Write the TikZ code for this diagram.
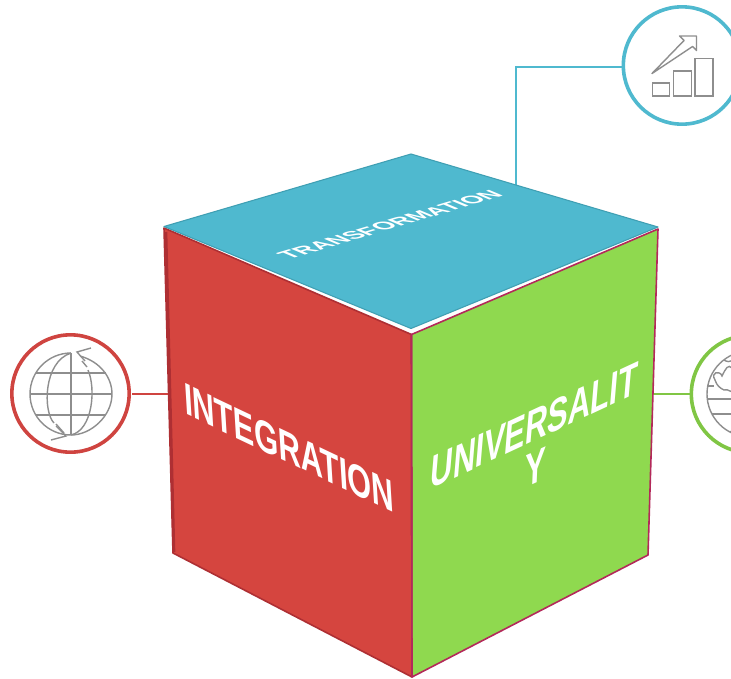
\documentclass[tikz,border=0pt]{standalone}
\usepackage{fontspec}
\setmainfont{Liberation Sans}
\definecolor{cblue}{HTML}{4FB9CF}
\definecolor{cbluedk}{HTML}{3F9FB3}
\definecolor{cred}{HTML}{D5453F}
\definecolor{credring}{HTML}{CF4440}
\definecolor{credk}{HTML}{AE2F33}
\definecolor{cgreen}{HTML}{8FD94F}
\definecolor{cgreenring}{HTML}{80C644}
\definecolor{ccrim}{HTML}{B3295A}
\definecolor{icon}{HTML}{8E8E8E}
\tikzset{
  ring/.style={circle,draw=#1,line width=2.7pt,fill=white,minimum size=88pt,inner sep=0pt},
  wire/.style={draw=#1,line width=1.4pt},
  ico/.style={draw=icon,line width=1.05pt},
  lab/.style={text=white,inner sep=0pt,transform shape,anchor=center},
  bigfont/.style={font=\bfseries\fontsize{30pt}{30pt}\selectfont},
  smallfont/.style={font=\bfseries\fontsize{15pt}{15pt}\selectfont}
}
\begin{document}
\begin{tikzpicture}[x=0.75pt,y=-0.75pt]
\clip (0,0) rectangle (731,678);
\fill[white] (0,0) rectangle (731,678);
% cube corners
\coordinate (T) at (411,154);
\coordinate (L) at (164,226.5);
\coordinate (R) at (658,227);
\coordinate (F) at (411,328.5);
\coordinate (Fs) at (411.5,334.5);
\coordinate (Ls) at (164,228);
\coordinate (Rs) at (658,229);
\coordinate (BL) at (173,553);
\coordinate (BR) at (648,555);
\coordinate (B) at (412,677);
% rings
\node[ring=cblue] (topring) at (682,65.5) {};
\node[ring=credring] (leftring) at (70.5,393.5) {};
\node[ring=cgreenring] (rightring) at (750,394) {};
\coordinate (tbend) at (516,67);
\coordinate (tend) at (623,67);
\coordinate (tfoot) at (516,186);
\coordinate (lfoot) at (170,394);
\coordinate (lstart) at (132,394);
\coordinate (rfoot) at (652,394);
\draw[wire=cblue] (tfoot) -- (tbend) -- (tend);
\draw[wire=credring] (lstart) -- (lfoot);
\draw[wire=cgreenring] (rightring.west) -- (rfoot);
% faces
\draw[fill=cred,draw=credk,line width=1.2pt,line join=round] (Ls) -- (Fs) -- (B) -- (BL) -- cycle;
\draw[fill=cgreen,draw=ccrim,line width=1.2pt,line join=round] (Rs) -- (Fs) -- (B) -- (BR) -- cycle;
\draw[ccrim,line width=1.2pt] (Fs) -- (B);
\draw[credk,line width=2pt] (166,232) -- (174,552);
\fill[white] (290,277) -- (411,332) -- (560,270) -- (411,327) -- cycle;
\draw[fill=cblue,draw=cbluedk,line width=0.8pt,line join=round] (T) -- (R) -- (F) -- (L) -- cycle;
% labels
\begin{scope}[cm={0.77,-0.365,-0.07,1.13,(289,448)}]
 \node[lab,bigfont] (integ) at (0,0) {INTEGRATION};
\end{scope}
\begin{scope}[cm={0.775,0.36,0.1,1.18,(534.5,425.5)}]
 \node[lab,bigfont] (univ) at (0,0) {UNIVERSALIT};
\end{scope}
\begin{scope}[cm={0.78,0.36,0.05,1.18,(536,467)}]
 \node[lab,bigfont] (univy) at (0,0) {Y};
\end{scope}
\begin{scope}[cm={1.14,0.34,-1.0,0.42,(390,224.5)}]
 \node[lab,smallfont] (transf) at (0,0) {TRANSFORMATION};
\end{scope}
% chart icon
\draw[ico] (652.5,83) rectangle (669.5,96);
\draw[ico] (673.5,71) rectangle (691.5,96);
\draw[ico] (695,58.5) rectangle (713,96);
\draw[ico,line join=round] (652,73.5) -- (684,40.5) -- (679.5,36) -- (696.5,36) -- (696.5,50.5) -- (692.5,46.5) -- cycle;
% left globe
\begin{scope}[shift={(71,394)}]
 \draw[ico] (0,-41) -- (0,41);
 \draw[ico] (-41,0) -- (41,0);
 \draw[ico] (-35,-21) -- (35,-21);
 \draw[ico] (-35,21) -- (35,21);
 \draw[ico] (0,41) arc (90:270:41);
 \draw[ico] (0,-41) .. controls (-28,-32) and (-28,18) .. (-17,29);
 \draw[ico] (-15,30) -- (-7,39);
 \draw[ico] (0,41) .. controls (20,41) and (41,22) .. (41,0)
   .. controls (41,-16) and (30,-32) .. (9,-38);
 \draw[ico] (0,41) .. controls (22,36) and (25,-6) .. (17,-24);
 \draw[ico] (16,-27) -- (11,-33);
 \draw[ico] (-20,46) -- (-5,42) -- (-15,32);
 \draw[ico] (20,-46) -- (6,-42) -- (14,-33);
\end{scope}
% right globe
\begin{scope}[shift={(750,394)}]
 \draw[ico] (0,0) circle (43);
 \draw[ico] (-43,-8) -- (-36,-8);
 \draw[ico] (-42.5,5) -- (43,5);
 \draw[ico] (-38,20) -- (39,20);
 \draw[ico] (-23,-20) -- (-13,-20);
 \draw[ico,fill=white] (-35,-14) .. controls (-40,-22) and (-30,-24) .. (-28,-18)
   .. controls (-24,-26) and (-22,-30) .. (-18,-26) .. controls (-16,-32) and (-8,-26) .. (-6,-24)
   .. controls (-4,-14) and (-12,-8) .. (-14,-2) .. controls (-18,0) and (-22,-6) .. (-26,-4)
   .. controls (-30,-6) and (-33,-8) .. (-35,-14) -- cycle;
 \draw[ico] (-14,-2) .. controls (-10,8) and (-10,16) .. (-10,26) .. controls (-10,32) and (-16,36) .. (-20,38);
 \draw[ico] (-26,-34) .. controls (-20,-30) and (-14,-34) .. (-10,-42);
\end{scope}
\end{tikzpicture}
\end{document}
